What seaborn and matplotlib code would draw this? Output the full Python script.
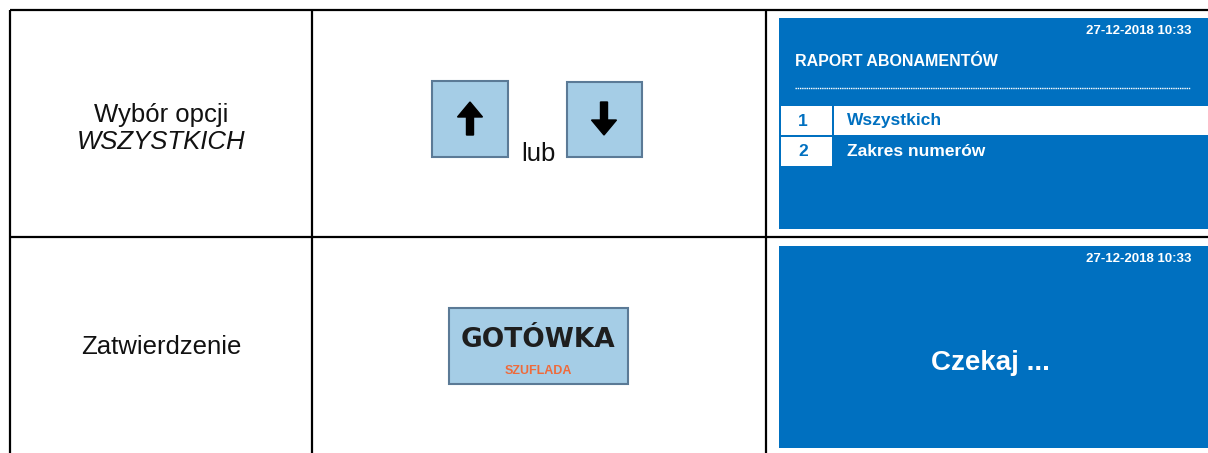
import matplotlib
matplotlib.use('Agg')
import matplotlib.pyplot as plt
import matplotlib.patches as mpatches
import seaborn as sns

sns.set_theme(style='white')
plt.rcParams['font.family'] = ['Liberation Sans', 'DejaVu Sans']

# table content
step_labels = ['Wybór opcji', 'Zatwierdzenie']
step_italic = ['WSZYSTKICH', '']
key_or = 'lub'
key_name = 'GOTÓWKA'
key_sub = 'SZUFLADA'
screen_time = '27-12-2018 10:33'
screen_title = 'RAPORT ABONAMENTÓW'
menu_nums = ['1', '2']
menu_items = ['Wszystkich', 'Zakres numerów']
wait_text = 'Czekaj ...'

W, H = 1208, 453
col_x = [10, 312, 766]
row_y = [10, 237]
blue = '#0070C0'
key_fill = '#A5CDE6'
key_edge = '#5B7A96'
narrow = ['Liberation Sans Narrow', 'Liberation Sans', 'DejaVu Sans']

fig = plt.figure(figsize=(W / 100, H / 100), dpi=100)
ax = fig.add_axes([0, 0, 1, 1])
ax.set_xlim(0, W)
ax.set_ylim(H, 0)
ax.axis('off')

# grid lines
for x in col_x:
    ax.plot([x, x], [row_y[0], H], color='black', lw=1.6, solid_capstyle='butt')
for y in row_y:
    ax.plot([col_x[0], W], [y, y], color='black', lw=1.6, solid_capstyle='butt')

# left column text
ax.text(161, 115, step_labels[0], ha='center', va='center', fontsize=18.5, color='#111111')
ax.text(161, 142, step_italic[0], ha='center', va='center', fontsize=18.5, style='italic', color='#111111')
ax.text(161, 347, step_labels[1], ha='center', va='center', fontsize=18.5, color='#111111')


def key(x0, y0, w, h):
    ax.add_patch(mpatches.Rectangle((x0, y0), w, h, facecolor=key_fill, edgecolor=key_edge, lw=1.5))


# arrow keys
key(432, 81, 76, 76)
key(567, 82, 75, 75)
ax.add_patch(mpatches.FancyArrow(470, 135, 0, -33, width=7, head_width=25, head_length=15,
                                 length_includes_head=True, color='black'))
ax.add_patch(mpatches.FancyArrow(604, 102, 0, 33, width=7, head_width=25, head_length=15,
                                 length_includes_head=True, color='black'))
ax.text(538, 161, key_or, ha='center', va='baseline', fontsize=18.5, color='#111111')

# cash key
key(449, 308, 179, 76)
ax.text(538, 340, key_name, ha='center', va='center', fontsize=19, fontweight='bold',
        family=['DejaVu Sans'], color='#1E1E1E')
ax.text(538, 371, key_sub, ha='center', va='center', fontsize=9, fontweight='bold',
        family=narrow, color='#EE6A3B')

# screen 1
ax.add_patch(mpatches.Rectangle((779, 18), W - 779, 211, facecolor=blue, lw=0))
ax.text(1192, 31, screen_time, ha='right', va='center', fontsize=9.5, fontweight='bold',
        family=narrow, color='white')
ax.text(795, 61, screen_title, ha='left', va='center', fontsize=11.5, fontweight='bold',
        family=narrow, color='white')
ax.plot([795, 1190], [88, 88], color='white', lw=1, linestyle=(0, (1, 0.6)))
row_tops = [106, 137]
for i, (num, item) in enumerate(zip(menu_nums, menu_items)):
    top = row_tops[i]
    ax.add_patch(mpatches.Rectangle((781, top), 51, 29, facecolor='white', lw=0))
    if i == 0:
        ax.add_patch(mpatches.Rectangle((834, top), W - 834, 29, facecolor='white', lw=0))
    ax.text(803, top + 15, num, ha='center', va='center', fontsize=12.5, fontweight='bold',
            family=narrow, color=blue)
    ax.text(847, top + 15, item, ha='left', va='center', fontsize=12.5, fontweight='bold',
            family=narrow, color=blue if i == 0 else 'white')

# screen 2
ax.add_patch(mpatches.Rectangle((779, 246), W - 779, 202, facecolor=blue, lw=0))
ax.text(1192, 259, screen_time, ha='right', va='center', fontsize=9.5, fontweight='bold',
        family=narrow, color='white')
ax.text(990, 363, wait_text, ha='center', va='center', fontsize=20, fontweight='bold',
        family=narrow, color='white')

fig.savefig('out.png', dpi=100, facecolor='white')
